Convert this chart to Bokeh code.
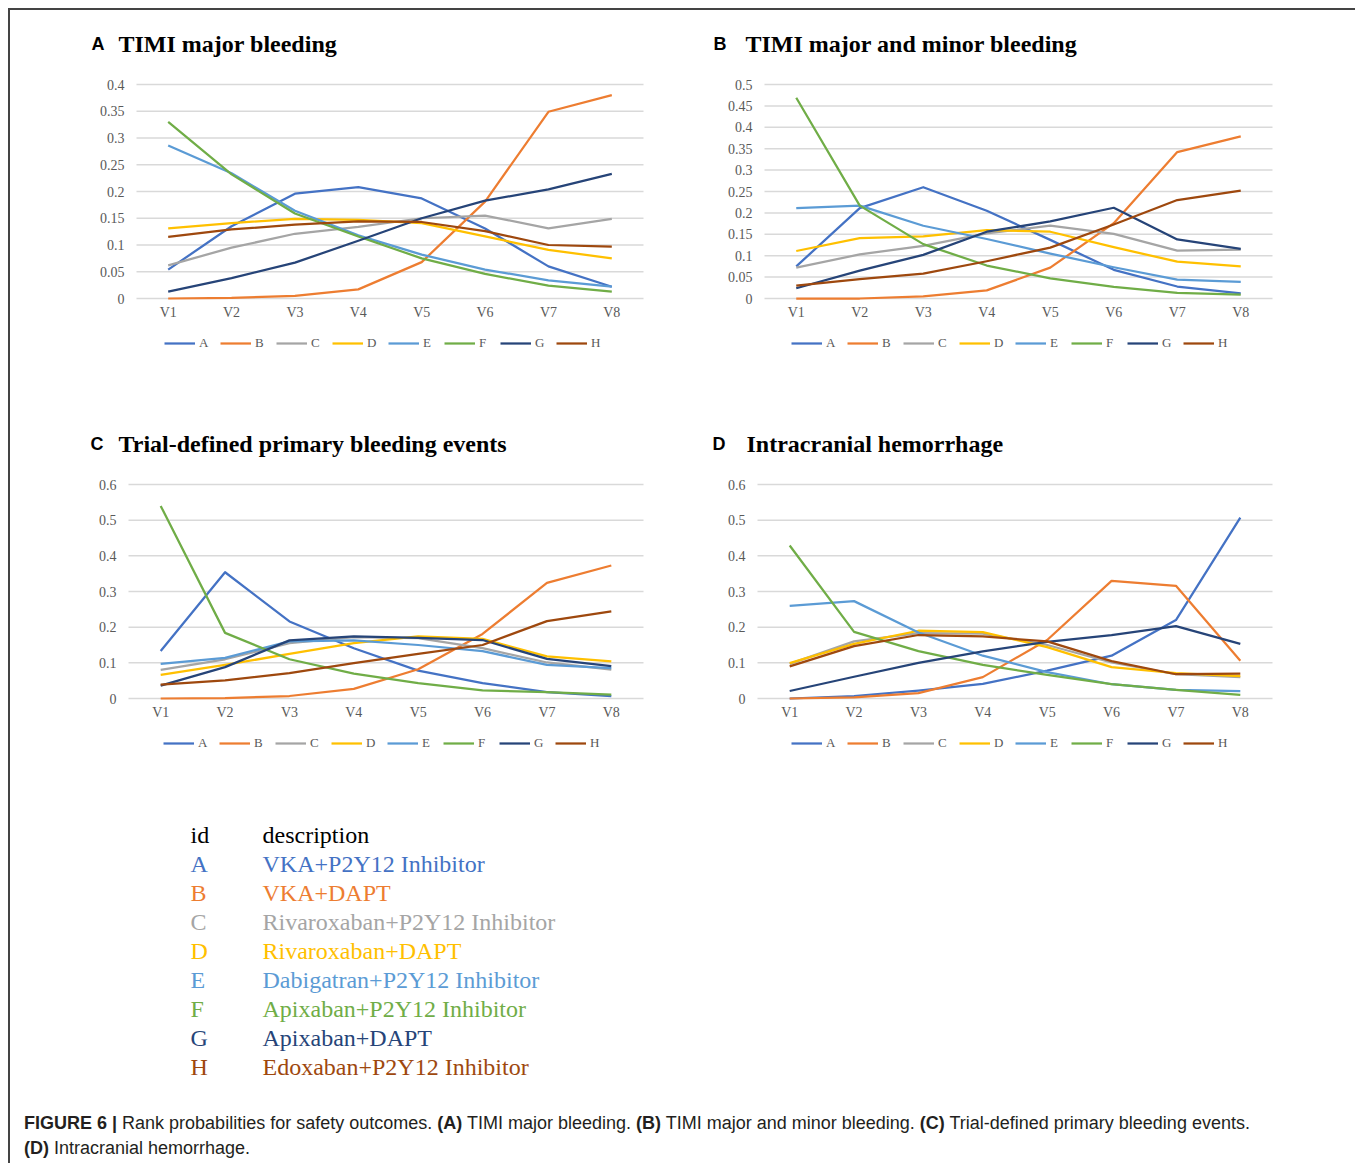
from bokeh.plotting import figure
from bokeh.models import Range1d, FixedTicker, Div, Spacer, Label
from bokeh.layouts import column, row
from bokeh.embed import file_html
from bokeh.resources import INLINE
from bokeh.core.properties import value

# ---------------- data ----------------
ranks = ["V1", "V2", "V3", "V4", "V5", "V6", "V7", "V8"]
series_ids = ["A", "B", "C", "D", "E", "F", "G", "H"]
descriptions = ["VKA+P2Y12 Inhibitor", "VKA+DAPT", "Rivaroxaban+P2Y12 Inhibitor",
                "Rivaroxaban+DAPT", "Dabigatran+P2Y12 Inhibitor", "Apixaban+P2Y12 Inhibitor",
                "Apixaban+DAPT", "Edoxaban+P2Y12 Inhibitor"]
series_colors = ["#4472C4", "#ED7D31", "#A5A5A5", "#FFC000",
                 "#5B9BD5", "#70AD47", "#264478", "#9E480E"]

panel_letters = ["A", "B", "C", "D"]
panel_titles = ["TIMI major bleeding", "TIMI major and minor bleeding",
                "Trial-defined primary bleeding events", "Intracranial hemorrhage"]

ticks_major = ["0", "0.05", "0.1", "0.15", "0.2", "0.25", "0.3", "0.35", "0.4"]
ticks_minor = ["0", "0.05", "0.1", "0.15", "0.2", "0.25", "0.3", "0.35", "0.4", "0.45", "0.5"]
ticks_tenth = ["0", "0.1", "0.2", "0.3", "0.4", "0.5", "0.6"]

# (A) TIMI major bleeding
tm_A = [0.054, 0.135, 0.196, 0.208, 0.187, 0.131, 0.060, 0.022]
tm_B = [0.000, 0.001, 0.005, 0.017, 0.068, 0.181, 0.349, 0.380]
tm_C = [0.062, 0.095, 0.121, 0.134, 0.150, 0.155, 0.131, 0.149]
tm_D = [0.131, 0.141, 0.149, 0.147, 0.141, 0.116, 0.091, 0.075]
tm_E = [0.286, 0.234, 0.164, 0.118, 0.082, 0.054, 0.034, 0.022]
tm_F = [0.330, 0.232, 0.159, 0.116, 0.075, 0.046, 0.024, 0.013]
tm_G = [0.013, 0.038, 0.067, 0.108, 0.150, 0.183, 0.204, 0.233]
tm_H = [0.115, 0.129, 0.138, 0.144, 0.143, 0.126, 0.100, 0.097]

# (B) TIMI major and minor bleeding
tmm_A = [0.075, 0.211, 0.260, 0.205, 0.137, 0.067, 0.028, 0.012]
tmm_B = [0.000, 0.000, 0.005, 0.019, 0.072, 0.176, 0.342, 0.379]
tmm_C = [0.072, 0.103, 0.123, 0.152, 0.170, 0.151, 0.112, 0.114]
tmm_D = [0.111, 0.141, 0.145, 0.160, 0.156, 0.120, 0.086, 0.075]
tmm_E = [0.211, 0.217, 0.170, 0.139, 0.105, 0.073, 0.044, 0.039]
tmm_F = [0.469, 0.217, 0.127, 0.077, 0.047, 0.027, 0.013, 0.009]
tmm_G = [0.024, 0.065, 0.102, 0.156, 0.180, 0.212, 0.138, 0.116]
tmm_H = [0.030, 0.045, 0.058, 0.087, 0.119, 0.173, 0.230, 0.252]

# (C) Trial-defined primary bleeding events
tdp_A = [0.133, 0.354, 0.216, 0.141, 0.078, 0.043, 0.018, 0.007]
tdp_B = [0.000, 0.001, 0.007, 0.027, 0.082, 0.181, 0.324, 0.373]
tdp_C = [0.080, 0.110, 0.155, 0.172, 0.169, 0.141, 0.101, 0.081]
tdp_D = [0.066, 0.094, 0.125, 0.155, 0.174, 0.167, 0.118, 0.104]
tdp_E = [0.097, 0.114, 0.160, 0.163, 0.150, 0.133, 0.094, 0.085]
tdp_F = [0.540, 0.184, 0.110, 0.070, 0.043, 0.023, 0.018, 0.011]
tdp_G = [0.036, 0.088, 0.163, 0.174, 0.170, 0.164, 0.111, 0.091]
tdp_H = [0.039, 0.051, 0.071, 0.099, 0.125, 0.150, 0.217, 0.244]

# (D) Intracranial hemorrhage
ich_A = [0.000, 0.007, 0.022, 0.041, 0.078, 0.120, 0.220, 0.507]
ich_B = [0.000, 0.003, 0.015, 0.060, 0.164, 0.330, 0.316, 0.106]
ich_C = [0.097, 0.160, 0.183, 0.182, 0.150, 0.101, 0.068, 0.060]
ich_D = [0.099, 0.153, 0.190, 0.186, 0.144, 0.088, 0.071, 0.063]
ich_E = [0.260, 0.273, 0.185, 0.120, 0.074, 0.040, 0.024, 0.021]
ich_F = [0.429, 0.187, 0.133, 0.094, 0.066, 0.040, 0.024, 0.010]
ich_G = [0.021, 0.061, 0.100, 0.132, 0.159, 0.178, 0.203, 0.153]
ich_H = [0.090, 0.147, 0.178, 0.174, 0.160, 0.105, 0.068, 0.070]

caption_html = ("<b>FIGURE 6 |</b> Rank probabilities for safety outcomes. <b>(A)</b> TIMI major bleeding. "
                "<b>(B)</b> TIMI major and minor bleeding. <b>(C)</b> Trial-defined primary bleeding events."
                "<br><b>(D)</b> Intracranial hemorrhage.")

# ---------------- styling / layout constants ----------------
SERIF = "Liberation Serif"
SANS = "Liberation Sans"
AXIS_TXT = "#595959"
GRID = "#d9d9d9"
PLOT_TOP = 74      # px from figure top to the top gridline
PLOT_H = 214       # px from top gridline to the zero line
TITLE_BASE = 33    # px from figure top to title baseline
LEGEND_BOTTOM = 341  # px from figure top to legend bottom edge


def make_panel(letter, title, series, tick_labels, ymax, W, H, plot_left, plot_w,
               legend_x, letter_x, title_x):
    n = len(ranks)
    sx = plot_w / n
    ppu = PLOT_H / ymax
    zero_px = PLOT_TOP + PLOT_H
    p = figure(width=W, height=H,
               x_range=Range1d(-plot_left / sx, n + (W - plot_left - plot_w) / sx),
               y_range=Range1d(-(H - zero_px) / ppu, ymax + PLOT_TOP / ppu),
               output_backend="svg", toolbar_location=None, min_border=0)
    p.outline_line_color = None
    p.xgrid.visible = False
    p.ygrid.visible = False

    tvals = [float(t) for t in tick_labels]
    xs = [i + 0.5 for i in range(n)]
    # horizontal gridlines spanning the category area
    p.segment(x0=[0] * len(tvals), x1=[n] * len(tvals), y0=tvals, y1=tvals,
              line_color=GRID, line_width=1.5)

    p.yaxis.ticker = FixedTicker(ticks=tvals)
    p.yaxis.major_label_overrides = {v: t for v, t in zip(tvals, tick_labels)}
    p.xaxis.ticker = FixedTicker(ticks=xs)
    p.xaxis.major_label_overrides = {v: r for v, r in zip(xs, ranks)}
    p.xaxis.fixed_location = 0
    p.yaxis.fixed_location = 0
    for ax in (p.xaxis[0], p.yaxis[0]):
        ax.axis_line_color = None
        ax.major_tick_line_color = None
        ax.minor_tick_line_color = None
        ax.major_tick_out = 0
        ax.major_tick_in = 0
        ax.minor_tick_out = 0
        ax.minor_tick_in = 0
        ax.major_label_text_font = SERIF
        ax.major_label_text_font_size = "14px"
        ax.major_label_text_color = AXIS_TXT
    p.yaxis.major_label_standoff = 12
    p.xaxis.major_label_standoff = 6

    for sid, vals, col in zip(series_ids, series, series_colors):
        p.line(x=xs, y=vals, line_color=col, line_width=2.25, line_join="round",
               legend_label=sid)

    lg = p.legend[0]
    lg.orientation = "horizontal"
    lg.location = (legend_x, H - LEGEND_BOTTOM)
    lg.glyph_width = 31
    lg.glyph_height = 14
    lg.label_height = 14
    lg.label_width = 12
    lg.label_standoff = 4
    lg.spacing = 9
    lg.padding = 0
    lg.margin = 0
    lg.border_line_color = None
    lg.background_fill_alpha = 0
    lg.label_text_font = SERIF
    lg.label_text_font_size = "13px"
    lg.label_text_color = AXIS_TXT

    p.add_layout(Label(x=letter_x, y=H - TITLE_BASE, x_units="screen", y_units="screen",
                       text=letter, text_font=SANS, text_font_style="bold",
                       text_font_size="18px", text_color="black",
                       text_baseline="alphabetic", text_align="left"))
    p.add_layout(Label(x=title_x, y=H - TITLE_BASE, x_units="screen", y_units="screen",
                       text=title, text_font=SERIF, text_font_style="bold",
                       text_font_size="24px", text_color="black",
                       text_baseline="alphabetic", text_align="left"))
    return p


pA = make_panel(panel_letters[0], panel_titles[0],
                [tm_A, tm_B, tm_C, tm_D, tm_E, tm_F, tm_G, tm_H], ticks_major, 0.4,
                690, 400, 126, 507, 154, 81, 108)
pB = make_panel(panel_letters[1], panel_titles[1],
                [tmm_A, tmm_B, tmm_C, tmm_D, tmm_E, tmm_F, tmm_G, tmm_H], ticks_minor, 0.5,
                647, 400, 64, 508, 91, 13, 45)
pC = make_panel(panel_letters[2], panel_titles[2],
                [tdp_A, tdp_B, tdp_C, tdp_D, tdp_E, tdp_F, tdp_G, tdp_H], ticks_tenth, 0.6,
                690, 380, 118, 515, 153, 80, 108)
pD = make_panel(panel_letters[3], panel_titles[3],
                [ich_A, ich_B, ich_C, ich_D, ich_E, ich_F, ich_G, ich_H], ticks_tenth, 0.6,
                647, 380, 57, 515, 91, 12, 46)

# ---------------- id / description table ----------------
TW, TH = 1337, 290
t = figure(width=TW, height=TH, x_range=Range1d(0, TW), y_range=Range1d(TH, 0),
           x_axis_type=None, y_axis_type=None, output_backend="svg", toolbar_location=None,
           min_border=0)
t.outline_line_color = None
HEAD_Y, ROW_H, COL1, COL2 = 44, 29, 180, 252
t.text(x=[COL1, COL2], y=[HEAD_Y, HEAD_Y], text=["id", "description"],
       text_font=value(SERIF), text_font_size=value("24px"), text_color="black",
       text_baseline="middle", text_align="left")
row_y = [HEAD_Y + ROW_H * (i + 1) for i in range(len(series_ids))]
t.text(x=[COL1] * len(series_ids), y=row_y, text=series_ids, text_color=series_colors,
       text_font=value(SERIF), text_font_size=value("24px"),
       text_baseline="middle", text_align="left")
t.text(x=[COL2] * len(series_ids), y=row_y, text=descriptions, text_color=series_colors,
       text_font=value(SERIF), text_font_size=value("24px"),
       text_baseline="middle", text_align="left")

# ---------------- caption ----------------
cap = Div(text=('<div style="padding:31px 0 0 14px; font-family:\'Liberation Sans\',Arial,sans-serif;'
                'font-size:18px; line-height:25px; color:#231f20; white-space:nowrap;">'
                + caption_html + '</div>'),
          width=1337, height=83, margin=0, styles={"overflow": "hidden"})

top_line = Div(text="", width=1347, height=2, margin=0, styles={"background-color": "#444444"})
left_line = Div(text="", width=2, height=1153, margin=0, styles={"background-color": "#444444"})

body = column(row(pA, pB, spacing=0), row(pC, pD, spacing=0), t, cap, spacing=0)
framed = column(top_line, row(left_line, body, spacing=0), spacing=0)
page = column(Spacer(width=1355, height=8, margin=0),
              row(Spacer(width=8, height=1155, margin=0), framed, spacing=0), spacing=0)

open("out.html", "w").write(file_html(page, INLINE))
